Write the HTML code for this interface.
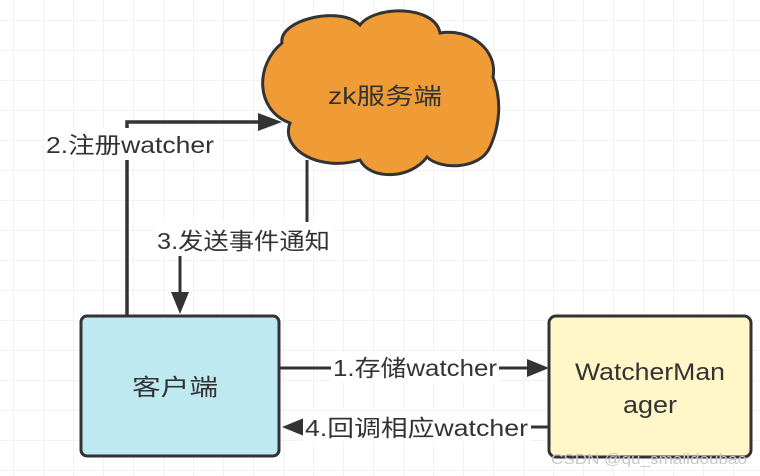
<!DOCTYPE html>
<html><head><meta charset="utf-8"><style>
html,body{margin:0;padding:0;background:#fff}
svg{display:block}
text{font-family:"Liberation Sans","Noto Sans CJK SC",sans-serif;fill:#333}
</style></head><body>
<svg width="760" height="476" viewBox="0 0 760 476" xmlns="http://www.w3.org/2000/svg">
<defs>
<pattern id="g" width="30" height="30" patternUnits="userSpaceOnUse" x="13" y="20">
<path d="M0 0H30M0 0V30" stroke="#efefef" stroke-width="1.5" fill="none"/>
</pattern>
</defs>
<rect width="760" height="476" fill="#fff"/>
<rect width="760" height="476" fill="url(#g)"/>
<!-- cloud -->
<path d="M282 43 C278 20 340 5 360 25 C375 5 435 5 440 33 C470 28 498 50 493 77 C502 100 500 125 490 147 C480 170 440 170 427 157 C410 180 370 180 360 160 C320 172 280 150 290 123 C255 110 255 65 282 43 Z" fill="#f09c36" stroke="#333" stroke-width="3"/>
<text x="328" y="104" font-size="23" textLength="114" lengthAdjust="spacingAndGlyphs">zk服务端</text>
<!-- arrow 2 -->
<path d="M127 316 V122 H262" stroke="#333" stroke-width="3.5" fill="none"/>
<path d="M258 113 L282 122 L258 131 Z" fill="#333"/>
<rect x="44" y="128" width="174" height="32" fill="#fff"/>
<text x="46" y="153" font-size="23" textLength="168" lengthAdjust="spacingAndGlyphs">2.注册watcher</text>
<!-- arrow 3 -->
<path d="M307 160 V240 H180 V300" stroke="#333" stroke-width="3" fill="none"/>
<path d="M171 292 L180 314 L189 292 Z" fill="#333"/>
<rect x="155" y="222" width="178" height="34" fill="#fff"/>
<text x="157" y="249" font-size="23" textLength="173" lengthAdjust="spacingAndGlyphs">3.发送事件通知</text>
<!-- boxes -->
<rect x="81" y="316" width="198" height="140" rx="6" fill="#bfe9f1" stroke="#333" stroke-width="3"/>
<text x="132" y="395" font-size="23" textLength="86" lengthAdjust="spacingAndGlyphs">客户端</text>
<rect x="549" y="316" width="202" height="141" rx="7" fill="#fff7c8" stroke="#333" stroke-width="3"/>
<text x="575" y="380" font-size="24" textLength="150" lengthAdjust="spacingAndGlyphs">WatcherMan</text>
<text x="623" y="413" font-size="24" textLength="54" lengthAdjust="spacingAndGlyphs">ager</text>
<!-- arrow 1 -->
<path d="M280 368 H530" stroke="#333" stroke-width="3" fill="none"/>
<path d="M527 359 L549 368 L527 377 Z" fill="#333"/>
<rect x="331" y="352" width="168" height="30" fill="#fff"/>
<text x="333" y="376" font-size="23" textLength="164" lengthAdjust="spacingAndGlyphs">1.存储watcher</text>
<!-- arrow 4 -->
<path d="M549 427 H300" stroke="#333" stroke-width="3" fill="none"/>
<path d="M304 418 L282 427 L304 436 Z" fill="#333"/>
<rect x="303" y="411" width="228" height="30" fill="#fff"/>
<text x="305" y="436" font-size="23" textLength="223" lengthAdjust="spacingAndGlyphs">4.回调相应watcher</text>
<text x="551" y="464" font-size="15" style="fill:#c8c8c8" textLength="196" lengthAdjust="spacingAndGlyphs">CSDN @qu_smalldoubao</text>
</svg>
</body></html>
